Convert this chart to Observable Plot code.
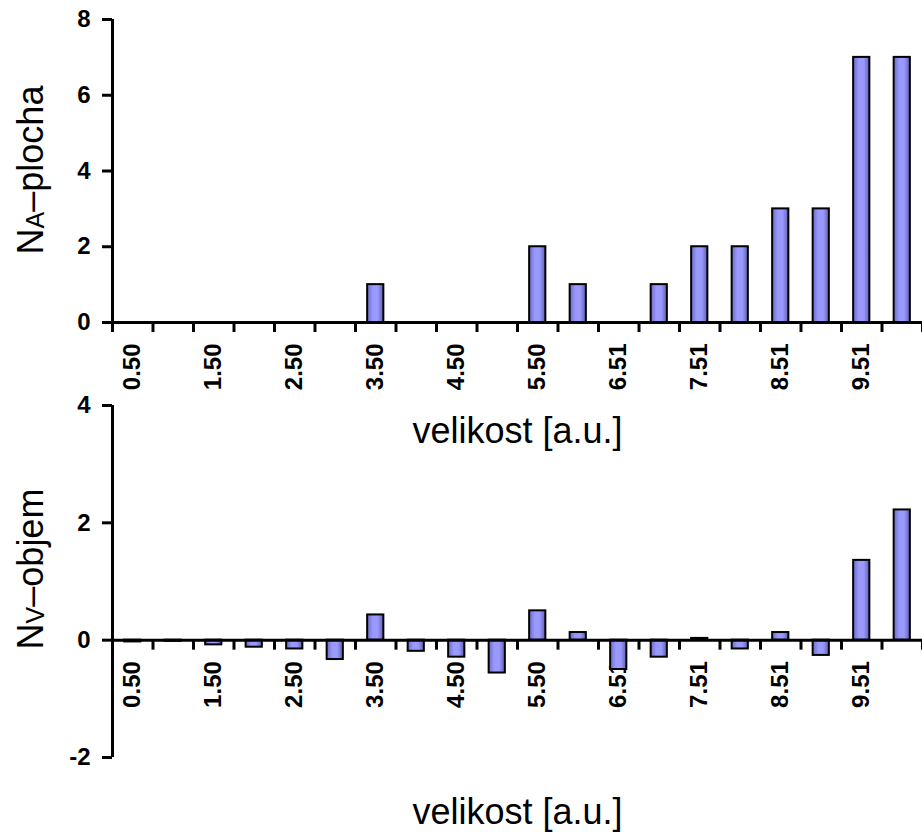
<!DOCTYPE html>
<html>
<head>
<meta charset="utf-8">
<script src="https://cdn.jsdelivr.net/npm/d3@7"></script>
<script src="https://cdn.jsdelivr.net/npm/@observablehq/plot@0.6"></script>
<style>
  html, body { margin: 0; padding: 0; background: white; }
  #wrap { position: relative; width: 922px; height: 832px; }
  #wrap > svg { position: absolute; left: 0; top: 0; }
</style>
</head>
<body>
<div id="wrap"></div>
<script>
// ---- data ----
const categories = ["0.50","1.00","1.50","2.00","2.50","3.00","3.50","4.00","4.50","5.00",
                    "5.50","6.01","6.51","7.01","7.51","8.01","8.51","9.01","9.51","10.01"];
const plochaValues = [0,0,0,0,0,0,1,0,0,0,2,1,0,1,2,2,3,3,7,7];
const objemValues = [-0.03,-0.02,-0.08,-0.12,-0.15,-0.33,0.43,-0.19,-0.29,-0.56,
                     0.50,0.13,-0.50,-0.29,0.03,-0.15,0.13,-0.26,1.36,2.22];
const plochaTicks = [0,2,4,6,8];
const objemTicks = [-2,0,2,4];
const xTitle = "velikost [a.u.]";
const plochaTitle = ["N","A","–plocha"];
const objemTitle = ["N","V","–objem"];

const FONT = "'Liberation Sans', Arial, Helvetica, sans-serif";
const W = 922, H = 832;

function panel({values, yDomain, yTicks, marginTop, marginBottom, titleDy, gradId}) {
  const bars = values.map((v, i) => ({i, v}));
  const boundaries = d3.range(categories.length + 1);
  const labels = categories.map((c, i) => ({i, c})).filter(d => d.i % 2 === 0);
  const svg = Plot.plot({
    width: W, height: H,
    marginLeft: 112, marginRight: 0, marginTop, marginBottom,
    style: {background: "transparent", fontFamily: FONT, overflow: "visible"},
    x: {domain: [0, categories.length], axis: null},
    y: {domain: yDomain, axis: null},
    marks: [
      Plot.text(labels, {x: d => d.i + 0.5, y: 0, text: d => d.c, rotate: -90,
        textAnchor: "end", lineAnchor: "middle", dy: 21,
        fontSize: 24, fontWeight: "bold", fontFamily: FONT, fill: "black"}),
      Plot.rectY(bars, {x1: d => d.i + 0.3, x2: d => d.i + 0.7, y: "v",
        fill: `url(#${gradId})`, stroke: "black", strokeWidth: 2}),
      Plot.ruleX(boundaries, {x: d => d, y1: 0, y2: 0, insetBottom: -10,
        stroke: "black", strokeWidth: 3}),
      Plot.ruleY([0], {stroke: "black", strokeWidth: 3}),
      Plot.ruleX([0], {stroke: "black", strokeWidth: 3}),
      Plot.axisY({ticks: yTicks, tickSize: 10, tickPadding: 12, strokeWidth: 3,
        tickFormat: d => String(d), label: null,
        fontSize: 24, fontWeight: "bold", fontFamily: FONT, fill: "black"}),
      Plot.text([xTitle], {frameAnchor: "bottom", text: d => d, lineAnchor: "bottom",
        dy: titleDy, fontSize: 36, fontFamily: FONT, fill: "black"})
    ]
  });
  const defs = d3.select(svg).insert("defs", ":first-child");
  const g = defs.append("linearGradient").attr("id", gradId)
    .attr("x1", 0).attr("x2", 1).attr("y1", 0).attr("y2", 0);
  g.append("stop").attr("offset", "0%").attr("stop-color", "#6b6bc2");
  g.append("stop").attr("offset", "35%").attr("stop-color", "#9999ff");
  g.append("stop").attr("offset", "65%").attr("stop-color", "#9999ff");
  g.append("stop").attr("offset", "100%").attr("stop-color", "#6060b0");
  return svg;
}

function yTitle(svg, parts, cy) {
  const t = d3.select(svg).append("text")
    .attr("transform", `translate(43,${cy}) rotate(-90)`)
    .attr("text-anchor", "middle")
    .attr("font-family", FONT).attr("font-size", 36).attr("fill", "black");
  t.append("tspan").text(parts[0]);
  t.append("tspan").attr("font-size", 25).attr("dy", 1).text(parts[1]);
  t.append("tspan").attr("dy", -1).text(parts[2]);
}

const topPanel = panel({values: plochaValues, yDomain: [0, 8], yTicks: plochaTicks,
  marginTop: 19, marginBottom: H - 322, titleDy: 120, gradId: "gradTop"});
yTitle(topPanel, plochaTitle, 170);

const bottomPanel = panel({values: objemValues, yDomain: [-2, 4], yTicks: objemTicks,
  marginTop: 405, marginBottom: H - 757, titleDy: 66, gradId: "gradBottom"});
yTitle(bottomPanel, objemTitle, 569);

const wrap = document.getElementById("wrap");
wrap.appendChild(topPanel);
wrap.appendChild(bottomPanel);
</script>
</body>
</html>
